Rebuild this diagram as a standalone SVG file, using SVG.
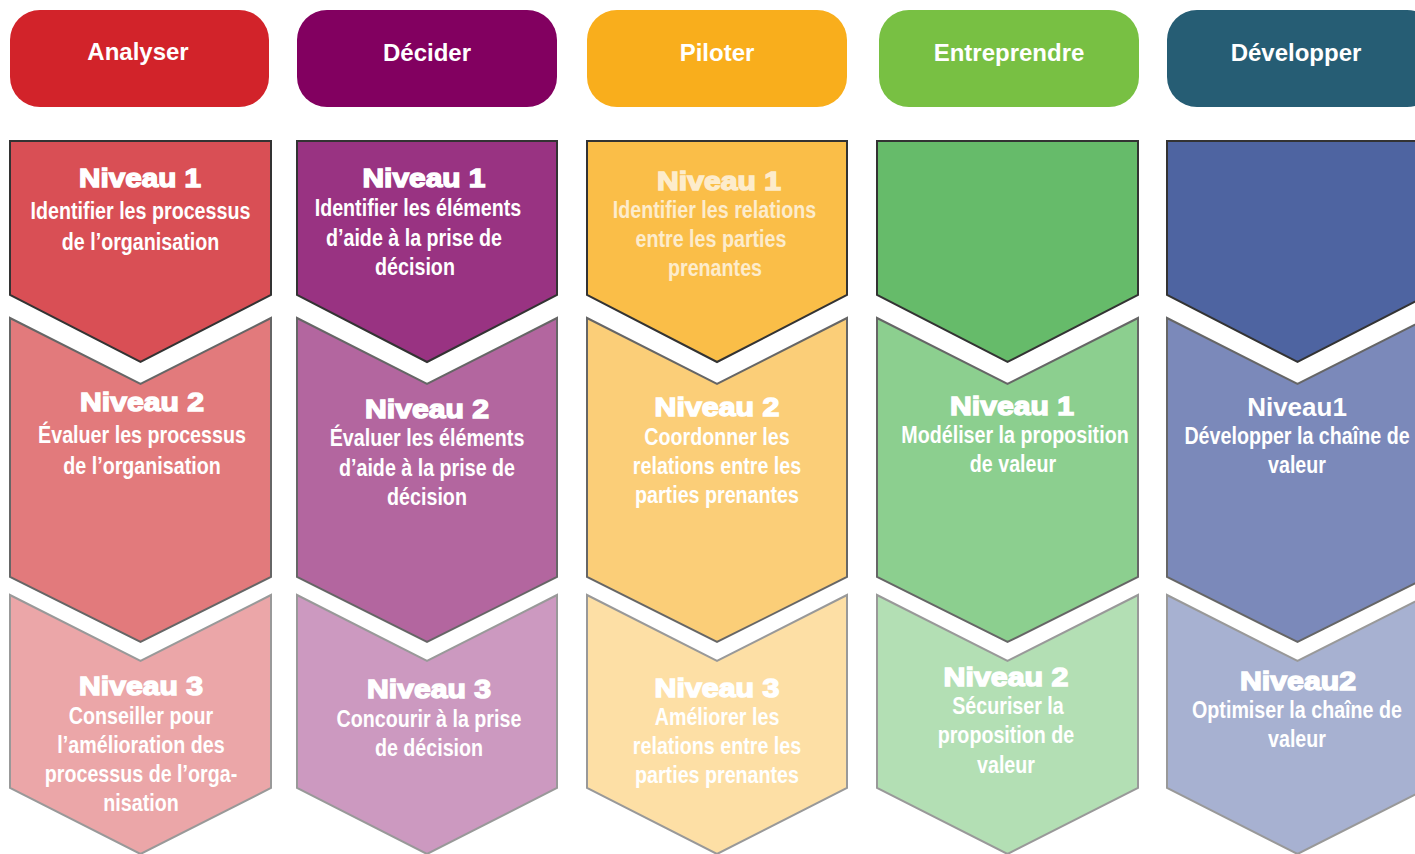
<svg xmlns="http://www.w3.org/2000/svg" width="1415" height="854" viewBox="0 0 1415 854">
<style>
.hd{font-family:"Liberation Sans",Arial,sans-serif;font-weight:bold;font-size:24px;fill:#fff;text-anchor:middle}
.nv{font-family:"Liberation Sans",Arial,sans-serif;font-weight:bold;font-size:26px;fill:#fff;stroke:#fff;stroke-width:1.4;text-anchor:middle}
.nv1{font-family:"Liberation Sans",Arial,sans-serif;font-weight:bold;font-size:26px;fill:#fff;text-anchor:middle}
.bd{font-family:"Liberation Sans",Arial,sans-serif;font-weight:bold;font-size:24px;fill:#fff;text-anchor:middle}
.s1{stroke:#333;stroke-width:2;stroke-linejoin:miter}
.s2{stroke:#666;stroke-width:2}
.s3{stroke:#999;stroke-width:2}
.fade{opacity:0.72}
</style>
<rect width="1415" height="854" fill="#fff"/>
<g id="headers">
<g id="h-analyser"><rect x="10" y="10" width="259" height="97" rx="30" fill="#D2232A"/><text class="hd" x="138" y="60">Analyser</text></g>
<g id="h-decider"><rect x="297" y="10" width="260" height="97" rx="30" fill="#820060"/><text class="hd" x="427" y="61">Décider</text></g>
<g id="h-piloter"><rect x="587" y="10" width="260" height="97" rx="30" fill="#F9AE1C"/><text class="hd" x="717" y="61">Piloter</text></g>
<g id="h-entreprendre"><rect x="879" y="10" width="260" height="97" rx="30" fill="#78C043"/><text class="hd" x="1009" y="61">Entreprendre</text></g>
<g id="h-developper"><rect x="1167" y="10" width="270" height="97" rx="30" fill="#265D74"/><text class="hd" x="1296" y="61">Développer</text></g>
</g>

<!-- Column 1 -->
<g id="c1-l1">
<polygon class="s1" fill="#D94F55" points="10,141 271,141 271,295 140.5,362 10,295"/>
<text class="nv" x="140" y="187" textLength="122" lengthAdjust="spacingAndGlyphs">Niveau 1</text>
<g transform="translate(140.5 0) scale(0.82 1)"><text class="bd" x="0" y="219">Identifier les processus</text><text class="bd" x="0" y="250">de l’organisation</text></g>
</g>
<g id="c1-l2">
<polygon class="s2" fill="#E27A7C" points="10,318 140.5,384 271,318 271,577 140.5,642 10,577"/>
<text class="nv" x="142" y="411" textLength="124" lengthAdjust="spacingAndGlyphs">Niveau 2</text>
<g transform="translate(142 0) scale(0.82 1)"><text class="bd" x="0" y="443">Évaluer les processus</text><text class="bd" x="0" y="474">de l’organisation</text></g>
</g>
<g id="c1-l3">
<polygon class="s3" fill="#EBA6A8" points="10,595 140.5,661 271,595 271,788 140.5,854 10,788"/>
<text class="nv" x="141" y="695" textLength="124" lengthAdjust="spacingAndGlyphs">Niveau 3</text>
<g transform="translate(141 0) scale(0.82 1)"><text class="bd" x="0" y="724">Conseiller pour</text><text class="bd" x="0" y="753">l’amélioration des</text><text class="bd" x="0" y="782">processus de l’orga-</text><text class="bd" x="0" y="811">nisation</text></g>
</g>

<!-- Column 2 -->
<g id="c2-l1">
<polygon class="s1" fill="#993382" points="297,141 557,141 557,295 427,362 297,295"/>
<text class="nv" x="424" y="187" textLength="123" lengthAdjust="spacingAndGlyphs">Niveau 1</text>
<g transform="translate(418 0) scale(0.82 1)"><text class="bd" x="0" y="216">Identifier les éléments</text></g>
<g transform="translate(414 0) scale(0.82 1)"><text class="bd" x="0" y="246">d’aide à la prise de</text></g>
<g transform="translate(415 0) scale(0.82 1)"><text class="bd" x="0" y="275">décision</text></g>
</g>
<g id="c2-l2">
<polygon class="s2" fill="#B3669F" points="297,318 427,384 557,318 557,577 427,642 297,577"/>
<text class="nv" x="427" y="418" textLength="124" lengthAdjust="spacingAndGlyphs">Niveau 2</text>
<g transform="translate(427 0) scale(0.82 1)"><text class="bd" x="0" y="446">Évaluer les éléments</text><text class="bd" x="0" y="476">d’aide à la prise de</text><text class="bd" x="0" y="505">décision</text></g>
</g>
<g id="c2-l3">
<polygon class="s3" fill="#CC99C0" points="297,595 427,661 557,595 557,788 427,854 297,788"/>
<text class="nv" x="429" y="698" textLength="124" lengthAdjust="spacingAndGlyphs">Niveau 3</text>
<g transform="translate(429 0) scale(0.82 1)"><text class="bd" x="0" y="727">Concourir à la prise</text><text class="bd" x="0" y="756">de décision</text></g>
</g>

<!-- Column 3 -->
<g id="c3-l1">
<polygon class="s1" fill="#FABE48" points="587,141 847,141 847,295 717,362 587,295"/>
<g class="fade">
<text class="nv" x="719" y="190" textLength="124" lengthAdjust="spacingAndGlyphs">Niveau 1</text>
<g transform="translate(714.5 0) scale(0.82 1)"><text class="bd" x="0" y="218">Identifier les relations</text></g>
<g transform="translate(711 0) scale(0.82 1)"><text class="bd" x="0" y="247">entre les parties</text></g>
<g transform="translate(715 0) scale(0.82 1)"><text class="bd" x="0" y="276">prenantes</text></g>
</g>
</g>
<g id="c3-l2">
<polygon class="s2" fill="#FBCE78" points="587,318 717,384 847,318 847,577 717,642 587,577"/>
<text class="nv" x="717" y="416" textLength="125" lengthAdjust="spacingAndGlyphs">Niveau 2</text>
<g transform="translate(717 0) scale(0.82 1)"><text class="bd" x="0" y="445">Coordonner les</text><text class="bd" x="0" y="474">relations entre les</text><text class="bd" x="0" y="503">parties prenantes</text></g>
</g>
<g id="c3-l3">
<polygon class="s3" fill="#FDDFA5" points="587,595 717,661 847,595 847,788 717,854 587,788"/>
<text class="nv" x="717" y="697" textLength="125" lengthAdjust="spacingAndGlyphs">Niveau 3</text>
<g transform="translate(717 0) scale(0.82 1)"><text class="bd" x="0" y="725">Améliorer les</text><text class="bd" x="0" y="754">relations entre les</text><text class="bd" x="0" y="783">parties prenantes</text></g>
</g>

<!-- Column 4 -->
<g id="c4-l1">
<polygon class="s1" fill="#66BB6A" points="877,141 1138,141 1138,295 1007.5,362 877,295"/>
</g>
<g id="c4-l2">
<polygon class="s2" fill="#8CCF8F" points="877,318 1007.5,384 1138,318 1138,577 1007.5,642 877,577"/>
<text class="nv" x="1012" y="415" textLength="124" lengthAdjust="spacingAndGlyphs">Niveau 1</text>
<g transform="translate(1015 0) scale(0.82 1)"><text class="bd" x="0" y="443">Modéliser la proposition</text></g>
<g transform="translate(1013 0) scale(0.82 1)"><text class="bd" x="0" y="472">de valeur</text></g>
</g>
<g id="c4-l3">
<polygon class="s3" fill="#B3DFB4" points="877,595 1007.5,661 1138,595 1138,788 1007.5,854 877,788"/>
<text class="nv" x="1006" y="686" textLength="125" lengthAdjust="spacingAndGlyphs">Niveau 2</text>
<g transform="translate(1008 0) scale(0.82 1)"><text class="bd" x="0" y="714">Sécuriser la</text></g>
<g transform="translate(1006 0) scale(0.82 1)"><text class="bd" x="0" y="743">proposition de</text><text class="bd" x="0" y="773">valeur</text></g>
</g>

<!-- Column 5 -->
<g id="c5-l1">
<polygon class="s1" fill="#4E64A1" points="1167,141 1428,141 1428,295 1297.5,362 1167,295"/>
</g>
<g id="c5-l2">
<polygon class="s2" fill="#7B89BA" points="1167,318 1297.5,384 1428,318 1428,577 1297.5,642 1167,577"/>
<text class="nv1" x="1297" y="416">Niveau1</text>
<g transform="translate(1297 0) scale(0.82 1)"><text class="bd" x="0" y="444">Développer la chaîne de</text><text class="bd" x="0" y="473">valeur</text></g>
</g>
<g id="c5-l3">
<polygon class="s3" fill="#A7B1D1" points="1167,595 1297.5,661 1428,595 1428,788 1297.5,854 1167,788"/>
<text class="nv" x="1298" y="690" textLength="116" lengthAdjust="spacingAndGlyphs">Niveau2</text>
<g transform="translate(1297 0) scale(0.82 1)"><text class="bd" x="0" y="718">Optimiser la chaîne de</text><text class="bd" x="0" y="747">valeur</text></g>
</g>

<g id="connectors"></g>
</svg>
